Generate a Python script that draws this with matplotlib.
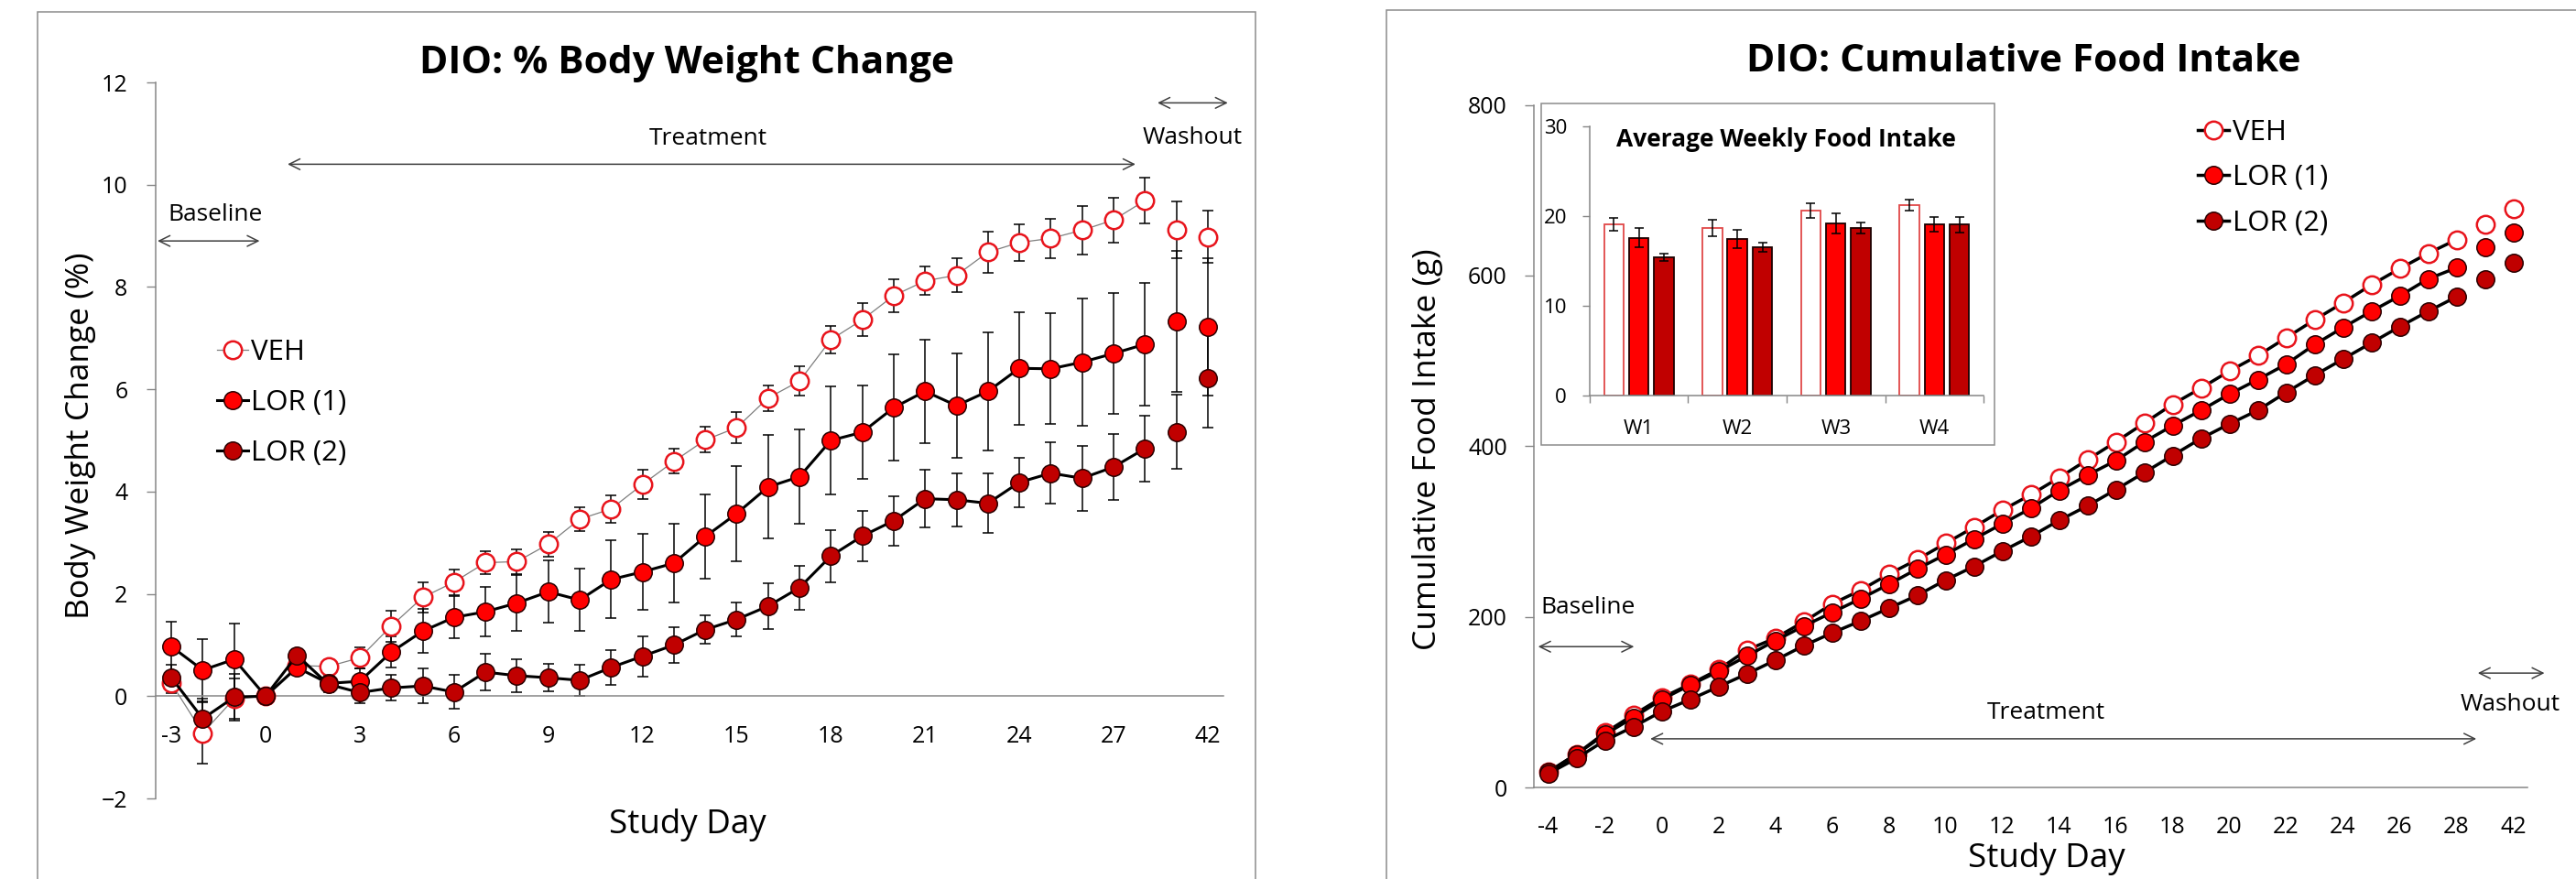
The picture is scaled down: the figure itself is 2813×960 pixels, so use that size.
import numpy as np
import matplotlib
matplotlib.use("Agg")
import matplotlib.pyplot as plt
from matplotlib.patches import Rectangle

plt.rcParams['font.family'] = ['Open Sans', 'DejaVu Sans']

# ---- data: % body weight change (days -3..28, then 2 washout points) ----
bw_days = [str(d) for d in range(-3, 29)] + ['35', '42']
veh_bw = [0.25, -0.72, -0.05, 0.0, 0.6, 0.58, 0.75, 1.37, 1.93, 2.23, 2.61, 2.63, 2.97, 3.46, 3.66, 4.14, 4.59,
          5.01, 5.25, 5.83, 6.16, 6.97, 7.36, 7.83, 8.12, 8.23, 8.68, 8.87, 8.95, 9.11, 9.31, 9.69, 9.12, 8.98]
veh_bw_err = [0.2, 0.6, 0.4, 0.0, 0.15, 0.1, 0.2, 0.3, 0.3, 0.25, 0.22, 0.24, 0.24, 0.24, 0.27, 0.29, 0.24,
              0.25, 0.3, 0.25, 0.29, 0.27, 0.32, 0.32, 0.28, 0.33, 0.41, 0.36, 0.38, 0.47, 0.44, 0.44, 0.55, 0.51]
lor1_bw = [0.97, 0.51, 0.72, 0.0, 0.56, 0.25, 0.29, 0.86, 1.27, 1.54, 1.65, 1.82, 2.04, 1.88, 2.28, 2.43, 2.60,
           3.12, 3.57, 4.09, 4.29, 5.0, 5.16, 5.64, 5.96, 5.68, 5.96, 6.41, 6.40, 6.53, 6.70, 6.88, 7.32, 7.22]
lor1_bw_err = [0.49, 0.61, 0.70, 0.0, 0.15, 0.15, 0.25, 0.3, 0.43, 0.41, 0.48, 0.54, 0.61, 0.61, 0.76, 0.75, 0.77,
               0.83, 0.93, 1.01, 0.92, 1.05, 0.91, 1.04, 1.01, 1.02, 1.16, 1.10, 1.08, 1.24, 1.18, 1.20, 1.38, 1.35]
lor2_bw = [0.36, -0.44, -0.02, 0.0, 0.80, 0.23, 0.07, 0.16, 0.20, 0.08, 0.47, 0.40, 0.36, 0.31, 0.56, 0.78, 1.0,
           1.30, 1.50, 1.76, 2.12, 2.74, 3.13, 3.43, 3.86, 3.84, 3.77, 4.18, 4.36, 4.26, 4.48, 4.84, 5.17, 6.22]
lor2_bw_err = [0.25, 0.4, 0.46, 0.0, 0.12, 0.15, 0.2, 0.25, 0.34, 0.33, 0.35, 0.33, 0.27, 0.30, 0.34, 0.39, 0.35,
               0.28, 0.33, 0.45, 0.43, 0.51, 0.49, 0.48, 0.56, 0.52, 0.58, 0.48, 0.6, 0.63, 0.65, 0.65, 0.72, 0.97]

# ---- data: cumulative food intake (days -4..28, then 2 washout points) ----
fi_days = [str(d) for d in range(-4, 29)] + ['35', '42']
veh_fi = [18, 39, 64, 85, 105, 121, 138, 161, 175, 194, 215, 231, 250, 267, 286, 305, 325, 343,
          363, 384, 405, 427, 449, 468, 488, 506, 527, 548, 568, 589, 608, 626, 642, 660, 678]
lor1_fi = [18, 39, 62, 82, 103, 120, 136, 154, 172, 189, 205, 221, 238, 256, 273, 291, 309, 327,
           348, 366, 383, 405, 424, 442, 461, 478, 496, 519, 539, 558, 576, 596, 609, 633, 650]
lor2_fi = [16, 34, 55, 71, 89, 103, 118, 133, 149, 166, 181, 195, 210, 225, 243, 259, 277, 294,
           313, 330, 349, 369, 389, 409, 426, 442, 463, 483, 502, 521, 540, 558, 575, 596, 615]

# ---- data: average weekly food intake (inset) ----
weeks = ['W1', 'W2', 'W3', 'W4']
veh_wk = [19.05, 18.65, 20.6, 21.25]
veh_wk_err = [0.7, 0.9, 0.8, 0.6]
lor1_wk = [17.6, 17.45, 19.2, 19.05]
lor1_wk_err = [1.1, 1.0, 1.1, 0.8]
lor2_wk = [15.4, 16.5, 18.65, 19.05]
lor2_wk_err = [0.4, 0.5, 0.6, 0.85]

labels = ['VEH', 'LOR (1)', 'LOR (2)']

W, H = 2813, 960
GRAY = '#868686'
RED = '#FF0000'
DARK = '#C00000'
EDGE = '#2a0000'
VEH_EDGE = '#E8141C'

fig = plt.figure(figsize=(W / 100, H / 100), dpi=100)

# panel borders
fig.add_artist(Rectangle((41 / W, -0.1), (1371 - 41) / W, 1.1 - 13 / H, transform=fig.transFigure,
                         fill=False, edgecolor='#8c8c8c', lw=1.1))
fig.add_artist(Rectangle((1514 / W, -0.1), 0.5, 1.1 - 11 / H, transform=fig.transFigure,
                         fill=False, edgecolor='#8c8c8c', lw=1.1))


def style_axes(ax):
    for s in ['top', 'right']:
        ax.spines[s].set_visible(False)
    for s in ['left', 'bottom']:
        ax.spines[s].set_color(GRAY)
        ax.spines[s].set_linewidth(1.1)


def arrow(ax, x0, x1, y):
    ax.annotate('', xy=(x1, y), xytext=(x0, y), annotation_clip=False,
                arrowprops=dict(arrowstyle='<->,head_length=0.85,head_width=0.42', color='#404040',
                                lw=1.1, shrinkA=0, shrinkB=0))


# ================= left: body weight =================
ax1 = fig.add_axes([170 / W, 1 - 872 / H, 1166 / W, 782 / H])
style_axes(ax1)
x = np.arange(len(bw_days))
n_tr = len(bw_days) - 2

for vals, err in [(veh_bw, veh_bw_err), (lor1_bw, lor1_bw_err), (lor2_bw, lor2_bw_err)]:
    ax1.errorbar(x, vals, yerr=err, fmt='none', ecolor='black', elinewidth=1.1,
                 capsize=4.5, capthick=1.1, zorder=2)

series_bw = [
    (veh_bw, dict(color='#7f7f7f', lw=0.9, marker='o', ms=14, mfc='white', mec=VEH_EDGE, mew=1.8)),
    (lor1_bw, dict(color='black', lw=2.2, marker='o', ms=14, mfc=RED, mec=EDGE, mew=1.1)),
    (lor2_bw, dict(color='black', lw=2.2, marker='o', ms=14, mfc=DARK, mec=EDGE, mew=1.1)),
]
handles = []
for vals, st in series_bw:
    h, = ax1.plot(x[:n_tr], vals[:n_tr], zorder=3, **st)
    ax1.plot(x[n_tr:], vals[n_tr:], zorder=3, **dict(st, ls='none'))
    handles.append(h)

ax1.set_xlim(-0.5, len(bw_days) - 0.5)
ax1.set_ylim(-2, 12)
ax1.set_yticks(np.arange(-2, 13, 2))
ax1.spines['bottom'].set_position(('data', 0))
tick_idx = list(range(0, 31, 3)) + [len(bw_days) - 1]
ax1.set_xticks(tick_idx)
ax1.set_xticklabels([bw_days[i] for i in tick_idx])
ax1.tick_params(axis='y', direction='out', length=7, width=1, color=GRAY, pad=15, labelsize=18)
ax1.tick_params(axis='x', length=0, pad=23, labelsize=18)

ax1.legend(handles, labels, loc='upper left', bbox_to_anchor=(237 / W, 1 - 370 / H),
           bbox_transform=fig.transFigure, frameon=False, fontsize=22.5, handlelength=1.1,
           handletextpad=0.1, labelspacing=0.8, borderpad=0, borderaxespad=0, numpoints=1)

arrow(ax1, -0.44, 2.81, 8.9)
ax1.text(1.4, 9.42, 'Baseline', ha='center', va='center', fontsize=19)
arrow(ax1, 3.7, 30.7, 10.4)
ax1.text(17.1, 10.9, 'Treatment', ha='center', va='center', fontsize=19)
arrow(ax1, 31.4, 33.64, 11.6)
ax1.text(32.5, 10.92, 'Washout', ha='center', va='center', fontsize=19, clip_on=False)

fig.text(750 / W, 1 - 70 / H, 'DIO: % Body Weight Change', ha='center', va='center',
         fontsize=30.5, fontweight='bold')
fig.text(88 / W, 1 - 476 / H, 'Body Weight Change (%)', ha='center', va='center',
         rotation=90, fontsize=25.5)
fig.text(751 / W, 1 - 901 / H, 'Study Day', ha='center', va='center', fontsize=26.5)

# ================= right: cumulative food intake =================
ax2 = fig.add_axes([1675 / W, 1 - 860 / H, 1085 / W, 745.5 / H])
style_axes(ax2)
x2 = np.arange(len(fi_days))
n_tr2 = len(fi_days) - 2

series_fi = [
    (veh_fi, dict(color='black', lw=2.5, marker='o', ms=14, mfc='white', mec=VEH_EDGE, mew=1.8)),
    (lor1_fi, dict(color='black', lw=2.5, marker='o', ms=14, mfc=RED, mec=EDGE, mew=1.1)),
    (lor2_fi, dict(color='black', lw=2.5, marker='o', ms=14, mfc=DARK, mec=EDGE, mew=1.1)),
]
handles2 = []
for vals, st in series_fi:
    h, = ax2.plot(x2[:n_tr2], vals[:n_tr2], zorder=3, **st)
    ax2.plot(x2[n_tr2:], vals[n_tr2:], zorder=3, **dict(st, ls='none'))
    handles2.append(h)

ax2.set_xlim(-0.5, len(fi_days) - 0.5)
ax2.set_ylim(0, 800)
ax2.set_yticks(np.arange(0, 801, 200))
tick_idx2 = list(range(0, 33, 2)) + [len(fi_days) - 1]
ax2.set_xticks(tick_idx2)
ax2.set_xticklabels([fi_days[i] for i in tick_idx2])
ax2.tick_params(axis='y', direction='out', length=7, width=1, color=GRAY, pad=14, labelsize=18)
ax2.tick_params(axis='x', length=0, pad=22, labelsize=18)

ax2.legend(handles2, labels, loc='upper left', bbox_to_anchor=(2400 / W, 1 - 130 / H),
           bbox_transform=fig.transFigure, frameon=False, fontsize=22.5, handlelength=1.1,
           handletextpad=0.1, labelspacing=0.62, borderpad=0, borderaxespad=0, numpoints=1)

arrow(ax2, -0.35, 3.03, 165)
ax2.text(1.4, 211, 'Baseline', ha='center', va='center', fontsize=19)
arrow(ax2, 3.6, 32.7, 57)
ax2.text(17.55, 87, 'Treatment', ha='center', va='center', fontsize=19)
arrow(ax2, 32.75, 35.1, 134)
ax2.text(33.9, 97, 'Washout', ha='center', va='center', fontsize=19, clip_on=False)

fig.text(2210 / W, 1 - 67 / H, 'DIO: Cumulative Food Intake', ha='center', va='center',
         fontsize=30.5, fontweight='bold')
fig.text(1559 / W, 1 - 491 / H, 'Cumulative Food Intake (g)', ha='center', va='center',
         rotation=90, fontsize=25.5)
fig.text(2235 / W, 1 - 938 / H, 'Study Day', ha='center', va='center', fontsize=26.5)

# ================= inset: average weekly food intake =================
frame = Rectangle((1683 / W, 1 - 486 / H), (2178 - 1683) / W, (486 - 113) / H, transform=fig.transFigure,
                  facecolor='white', edgecolor='#8c8c8c', lw=1.1, zorder=0.5)
fig.add_artist(frame)
ax3 = fig.add_axes([1736 / W, 1 - 432 / H, 430 / W, 294 / H])
ax3.set_zorder(1)
ax3.patch.set_alpha(0)
style_axes(ax3)
xw = np.arange(len(weeks))
bw = 0.2
off = 0.255
ax3.bar(xw - off, veh_wk, bw, color='white', edgecolor='#E04848', lw=1.3,
        yerr=veh_wk_err, capsize=3.5, error_kw=dict(elinewidth=1.1, capthick=1.1))
ax3.bar(xw, lor1_wk, bw, color=RED, edgecolor='#1a0000', lw=1.3,
        yerr=lor1_wk_err, capsize=3.5, error_kw=dict(elinewidth=1.1, capthick=1.1))
ax3.bar(xw + off, lor2_wk, bw, color=DARK, edgecolor='#1a0000', lw=1.3,
        yerr=lor2_wk_err, capsize=3.5, error_kw=dict(elinewidth=1.1, capthick=1.1))
ax3.set_xlim(-0.5, len(weeks) - 0.5)
ax3.set_ylim(0, 30)
ax3.set_yticks([0, 10, 20, 30])
ax3.set_xticks(xw)
ax3.set_xticklabels(weeks)
ax3.set_xticks(np.arange(-0.5, len(weeks), 1), minor=True)
ax3.tick_params(axis='y', direction='out', length=6, width=1, color=GRAY, pad=12, labelsize=16)
ax3.tick_params(axis='x', which='major', length=0, pad=19, labelsize=16)
ax3.tick_params(axis='x', which='minor', direction='out', length=6, width=1, color=GRAY)

fig.text(1950 / W, 1 - 153 / H, 'Average Weekly Food Intake', ha='center', va='center',
         fontsize=19, fontweight='bold')

fig.savefig('out.png', dpi=100)
